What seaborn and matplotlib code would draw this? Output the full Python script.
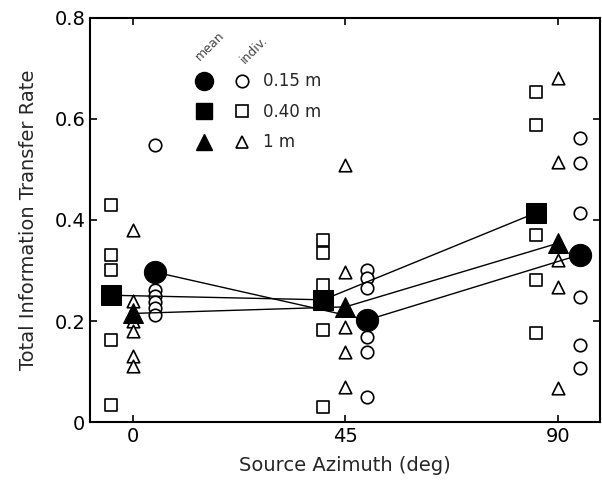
import numpy as np
import pandas as pd
import matplotlib
matplotlib.use('Agg')
import matplotlib.pyplot as plt
from matplotlib.lines import Line2D
from matplotlib.legend_handler import HandlerTuple
from matplotlib.ticker import FuncFormatter
import seaborn as sns

# azimuth conditions (deg)
azimuths = [0, 45, 90]
distances = ['0.15 m', '0.40 m', '1 m']

# individual subject values, per distance, per azimuth
indiv_015 = [[0.549, 0.262, 0.250, 0.238, 0.226, 0.212],
             [0.300, 0.285, 0.265, 0.168, 0.139, 0.050],
             [0.562, 0.513, 0.414, 0.248, 0.152, 0.107]]
indiv_040 = [[0.430, 0.331, 0.301, 0.162, 0.034],
             [0.360, 0.335, 0.271, 0.182, 0.030],
             [0.653, 0.588, 0.370, 0.281, 0.176]]
indiv_100 = [[0.380, 0.240, 0.200, 0.180, 0.130, 0.110],
             [0.509, 0.297, 0.188, 0.139, 0.069],
             [0.681, 0.515, 0.321, 0.267, 0.067]]

# group means
mean_015 = [0.297, 0.202, 0.331]
mean_040 = [0.251, 0.242, 0.414]
mean_100 = [0.215, 0.228, 0.354]

sns.set_style('ticks')
plt.rcParams['font.family'] = ['DejaVu Sans']

fig = plt.figure(figsize=(6.02, 4.84), dpi=100)
ax = fig.add_axes([0.1495, 0.128, 0.8472, 0.835])

styles = [
    (distances[0], indiv_015, mean_015, 'o', 4.6, 16, 9),
    (distances[1], indiv_040, mean_040, 's', -4.7, 14, 8),
    (distances[2], indiv_100, mean_100, '^', 0.0, 15, 9),
]

handles = []
for name, indiv, means, mk, off, ms_mean, ms_ind in styles:
    rows = []
    for az, vals in zip(azimuths, indiv):
        for v in vals:
            rows.append({'az': az + off, 'rate': v})
    df = pd.DataFrame(rows)
    sns.scatterplot(data=df, x='az', y='rate', marker=mk, s=ms_ind ** 2,
                    facecolor='white', edgecolor='black', linewidth=1.2,
                    ax=ax, zorder=3)
    mdf = pd.DataFrame({'az': np.array(azimuths) + off, 'rate': means})
    sns.lineplot(data=mdf, x='az', y='rate', color='black', lw=1.0,
                 marker=mk, markersize=ms_mean, markerfacecolor='black',
                 markeredgecolor='black', ax=ax, zorder=4)
    h_mean = Line2D([], [], ls='none', marker=mk, color='black',
                    markersize=ms_mean - 3)
    h_ind = Line2D([], [], ls='none', marker=mk, markerfacecolor='white',
                   markeredgecolor='black', markeredgewidth=1.2,
                   markersize=ms_ind)
    handles.append((h_mean, h_ind))

leg = ax.legend(handles, distances, handler_map={tuple: HandlerTuple(ndivide=None, pad=1.2)},
                loc='upper left', bbox_to_anchor=(0.205, 0.865), frameon=False,
                borderpad=0, borderaxespad=0, handlelength=3.4, handletextpad=0.7,
                labelspacing=0.75, fontsize=12)

ax.text(0.235, 0.93, 'mean', transform=ax.transAxes, rotation=45,
        ha='center', va='center', fontsize=9, color='#444444')
ax.text(0.322, 0.922, 'indiv.', transform=ax.transAxes, rotation=45,
        ha='center', va='center', fontsize=9, color='#444444')

ax.set_xlim(-9.1, 98.9)
ax.set_ylim(0, 0.8)
ax.set_xticks(azimuths)
ax.set_yticks([0, 0.2, 0.4, 0.6, 0.8])
ax.yaxis.set_major_formatter(FuncFormatter(lambda v, p: f'{v:g}'))
ax.tick_params(direction='in', length=5, width=1.2, labelsize=14,
               top=True, right=True, colors='black')
for sp in ax.spines.values():
    sp.set_visible(True)
    sp.set_linewidth(1.5)
    sp.set_color('black')

ax.set_xlabel('Source Azimuth (deg)', fontsize=14, labelpad=7)
ax.set_ylabel('Total Information Transfer Rate', fontsize=14, labelpad=12)

fig.savefig('out.png', dpi=100)
